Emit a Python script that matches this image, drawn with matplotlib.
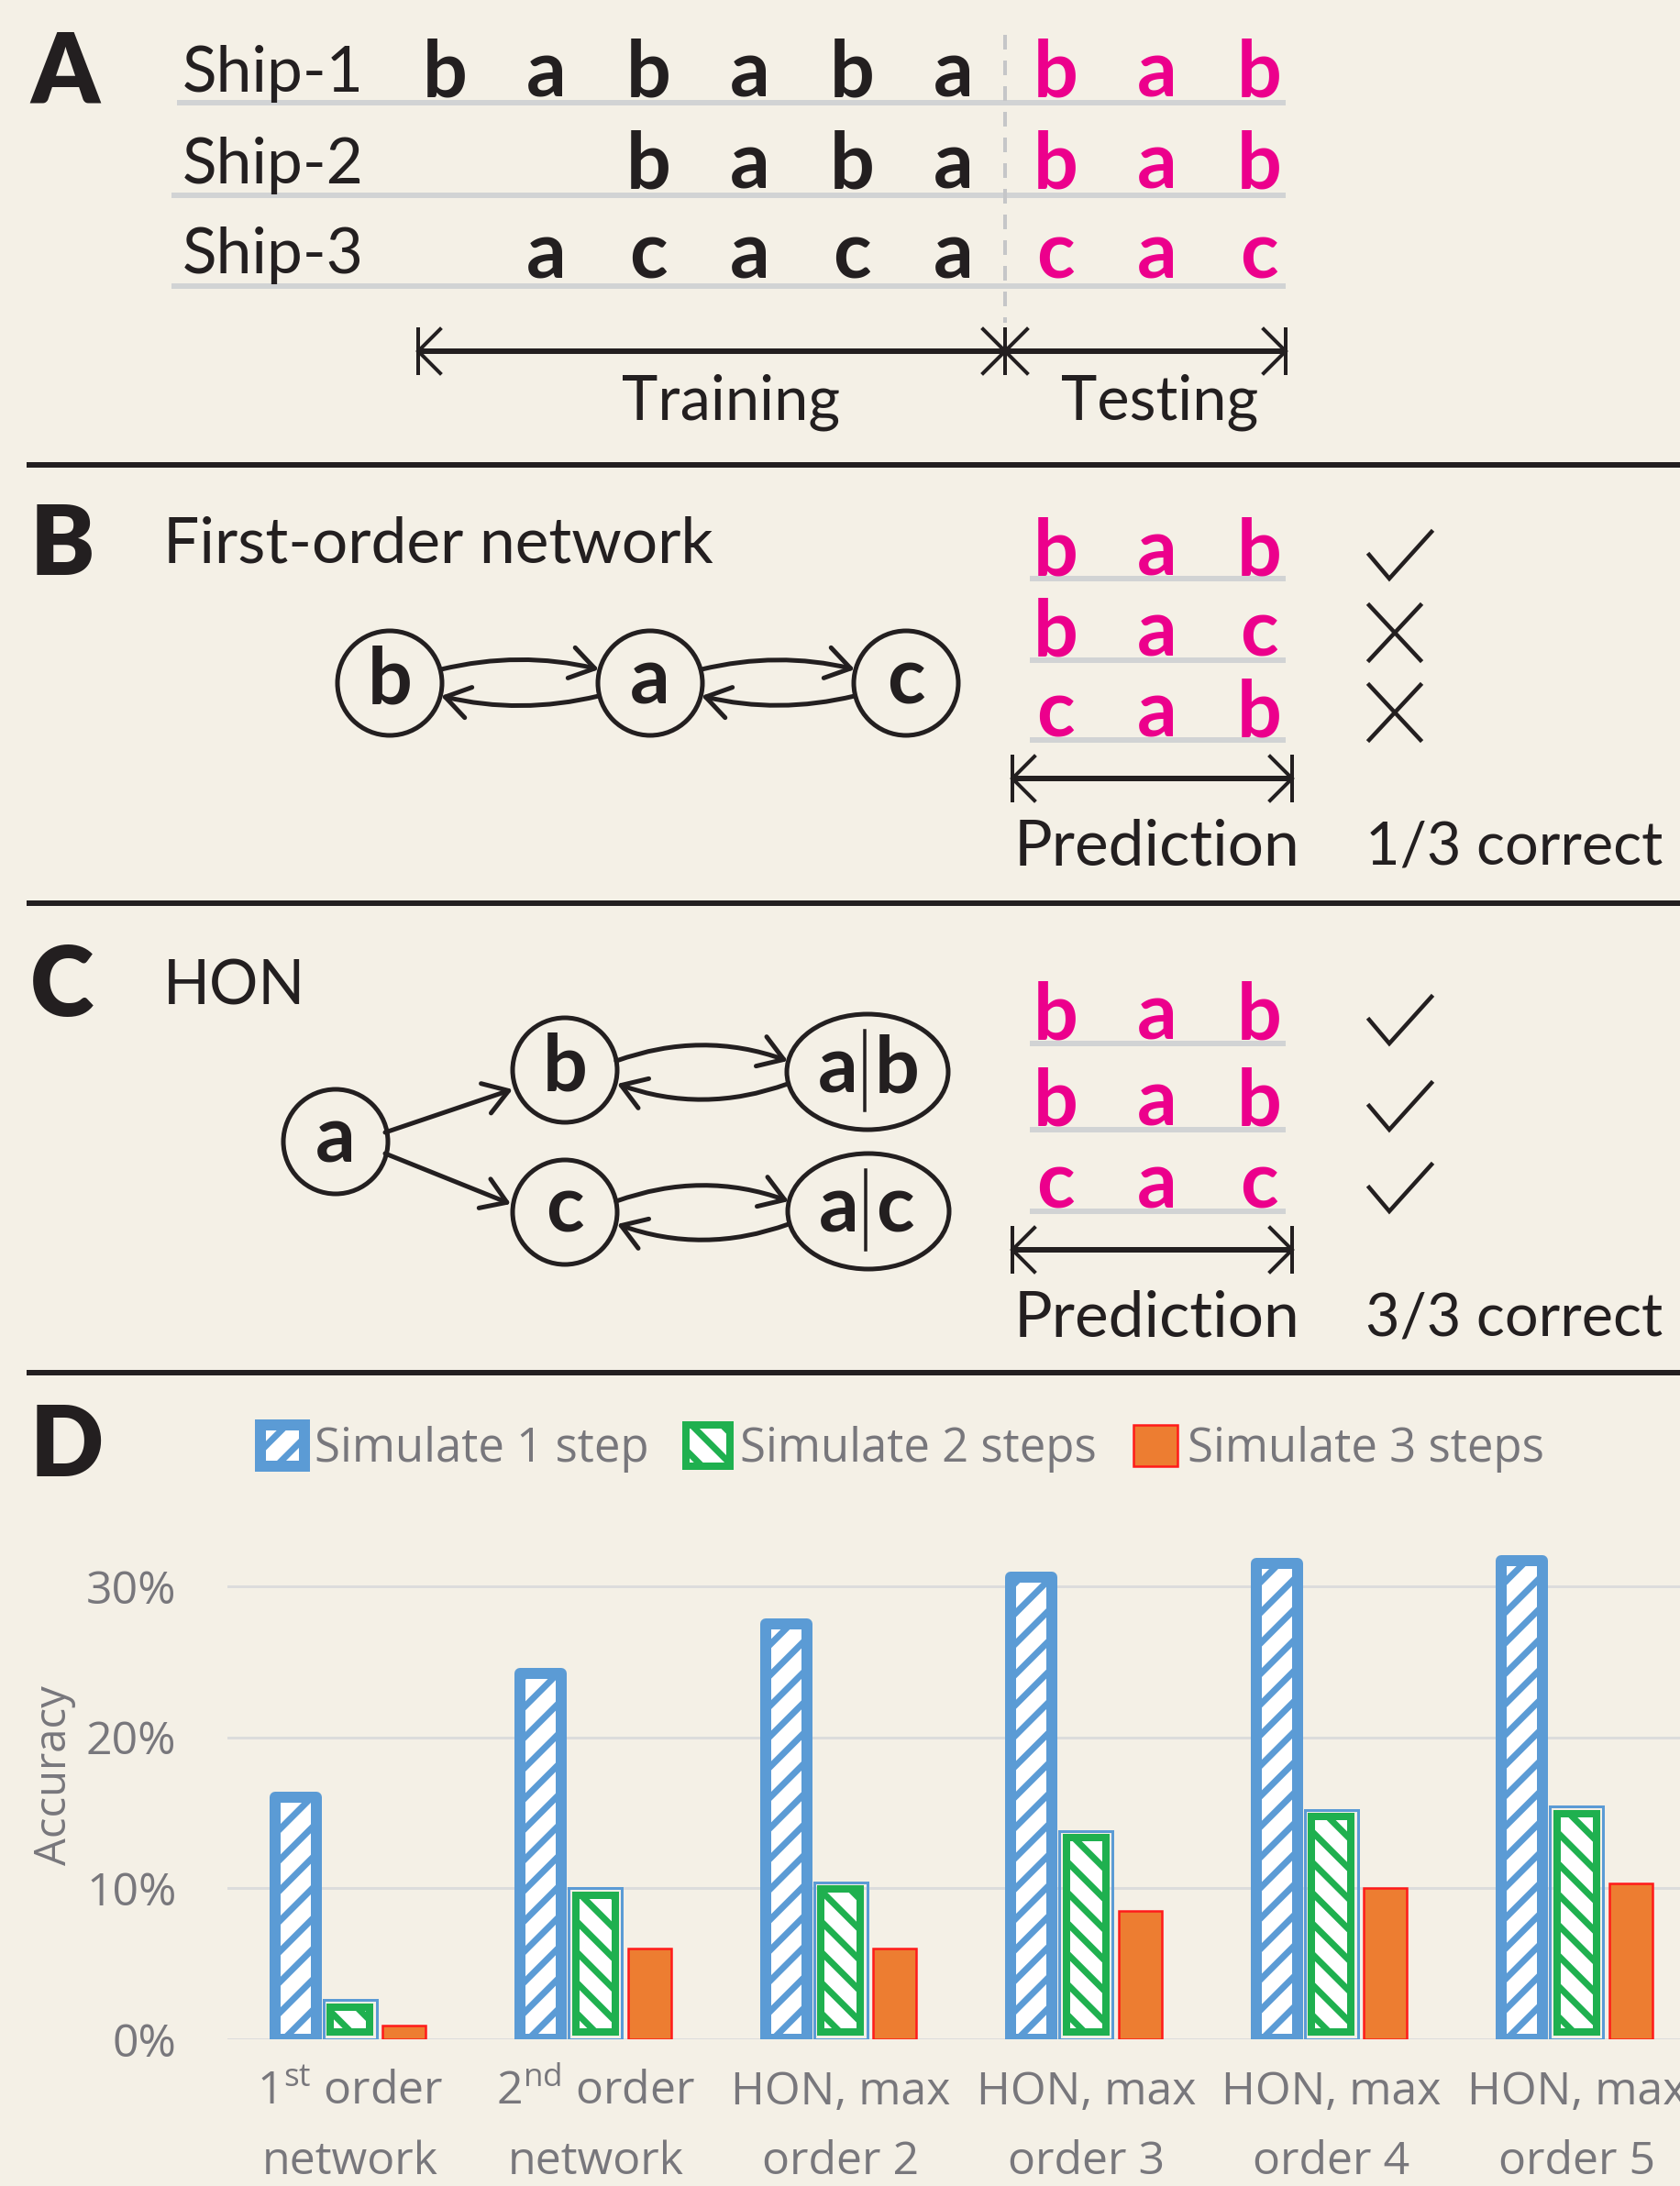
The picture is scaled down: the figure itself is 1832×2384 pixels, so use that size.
import matplotlib
matplotlib.use('Agg')

import numpy as np
import matplotlib.pyplot as plt
from matplotlib.patches import Ellipse, FancyArrowPatch, ArrowStyle

# =========================
# Canvas: drawn in pixel units of the final 1832x2384 image
# =========================
DPI = 200
W, H = 1832, 2384


def px(v):
    # pixels -> points at this dpi
    return v * 72.0 / DPI


BG = '#f4f0e6'
INK = '#231f20'
PINK = '#ec008c'
RULE = '#d1d3d4'
GRAY = '#78777c'
BLUE = '#5b9bd5'
GREEN = '#1fb04f'
ORANGE = '#ed7d31'
RED = '#ff1a1a'

PANEL_FONT = ['Lato', 'DejaVu Sans']
CHART_FONT = ['Open Sans', 'DejaVu Sans']

plt.rcParams['font.family'] = PANEL_FONT
plt.rcParams['mathtext.fontset'] = 'custom'
plt.rcParams['mathtext.rm'] = 'Open Sans'
plt.rcParams['hatch.linewidth'] = px(7)

# =========================
# Data
# =========================
ships = ['Ship-1', 'Ship-2', 'Ship-3']
train_seqs = ['bababa', 'baba', 'acaca']
test_seqs = ['bab', 'bab', 'cac']

first_order_pred = ['bab', 'bac', 'cab']
first_order_ok = [True, False, False]
hon_pred = ['bab', 'bab', 'cac']
hon_ok = [True, True, True]

categories = ['1$^{\\mathrm{st}}$ order\nnetwork', '2$^{\\mathrm{nd}}$ order\nnetwork',
              'HON, max\norder 2', 'HON, max\norder 3', 'HON, max\norder 4', 'HON, max\norder 5']
series = ['Simulate 1 step', 'Simulate 2 steps', 'Simulate 3 steps']
step1 = [16.0, 24.2, 27.5, 30.6, 31.5, 31.7]
step2 = [2.6, 10.0, 10.4, 13.8, 15.2, 15.4]
step3 = [0.9, 6.0, 6.0, 8.5, 10.0, 10.3]
y_ticks = [0, 10, 20, 30]
y_tick_labels = ['0%', '10%', '20%', '30%']

# =========================
# Figure + drawing layer
# =========================
fig = plt.figure(figsize=(W / DPI, H / DPI), dpi=DPI, facecolor=BG)
ax0 = fig.add_axes([0, 0, 1, 1])
ax0.set_xlim(0, W)
ax0.set_ylim(H, 0)
ax0.axis('off')

COLS = 485 + 111 * np.arange(9)


def span_arrow(x0, x1, y):
    ax0.plot([x0, x1], [y, y], color=INK, lw=px(6), solid_capstyle='butt')
    for xe, s in ((x0, 1), (x1, -1)):
        ax0.plot([xe + s * 24, xe, xe + s * 24], [y - 24, y, y + 24],
                 color=INK, lw=px(4), solid_joinstyle='miter')
        ax0.plot([xe, xe], [y - 24, y + 24], color=INK, lw=px(4))


def check(xb, yb):
    ax0.plot([xb - 22, xb, xb + 46], [yb - 26, yb, yb - 51],
             color=INK, lw=px(4.5), solid_joinstyle='miter')


def cross(xc, yc):
    ax0.plot([xc - 28, xc + 28], [yc - 30, yc + 30], color=INK, lw=px(4.5))
    ax0.plot([xc - 28, xc + 28], [yc + 30, yc - 30], color=INK, lw=px(4.5))


def node(x, y, label, rx=57, ry=57):
    ax0.add_patch(Ellipse((x, y), 2 * rx, 2 * ry, fill=False, ec=INK, lw=px(5)))
    if '|' in label:
        left, right = label.split('|')
        ax0.text(x - 10, y + 22, left, fontsize=31, fontweight='bold', color=INK,
                 ha='right', va='baseline')
        ax0.text(x + 8, y + 22, right, fontsize=31, fontweight='bold', color=INK,
                 ha='left', va='baseline')
        ax0.plot([x - 3, x - 3], [y - 45, y + 42], color=INK, lw=px(3.5))
    else:
        ax0.text(x, y + 22, label, fontsize=31, fontweight='bold', color=INK,
                 ha='center', va='baseline')


def edge(pA, pB, rad):
    style = ArrowStyle('->', head_length=px(26), head_width=px(17))
    ax0.add_patch(FancyArrowPatch(pA, pB, connectionstyle='arc3,rad=%s' % rad,
                                  arrowstyle=style, mutation_scale=1, lw=px(5),
                                  color=INK, shrinkA=0, shrinkB=0))


def prediction_block(preds, oks, rule_ys, arrow_y, text_y, score):
    for i, seq in enumerate(preds):
        ax0.plot([1123, 1402], [rule_ys[i]] * 2, color=RULE, lw=px(6), solid_capstyle='butt')
        for j, ch in enumerate(seq):
            ax0.text(COLS[6 + j], rule_ys[i] - 4, ch, fontsize=31, fontweight='bold',
                     color=PINK, ha='center', va='baseline')
        if oks[i]:
            check(1515, rule_ys[i])
        else:
            cross(1521, rule_ys[i] - 30)
    span_arrow(1104, 1409, arrow_y)
    ax0.text(1261, text_y, 'Prediction', fontsize=25, color=INK, ha='center', va='baseline')
    ax0.text(1489, text_y, score, fontsize=23.3, color=INK, ha='left', va='baseline')


# panel letters and separators
for letter, yb in zip('ABCD', [112, 627, 1108, 1610]):
    ax0.text(33, yb, letter, fontsize=38, fontweight='heavy', color=INK, ha='left', va='baseline')
for ys in [507, 985, 1497]:
    ax0.plot([29, W], [ys, ys], color=INK, lw=px(6), solid_capstyle='butt')

# =========================
# Panel A
# =========================
ship_base = [100, 200, 298]
letter_base = [106, 205, 304]
rule_y = [112, 213, 312]
rule_x0 = [193, 187, 187]
for i, ship in enumerate(ships):
    ax0.plot([rule_x0[i], 1402], [rule_y[i]] * 2, color=RULE, lw=px(6), solid_capstyle='butt')
    ax0.text(199, ship_base[i], ship, fontsize=25, color=INK, ha='left', va='baseline')
    seq = train_seqs[i]
    for j, ch in enumerate(seq):
        ax0.text(COLS[6 - len(seq) + j], letter_base[i], ch, fontsize=31, fontweight='bold',
                 color=INK, ha='center', va='baseline')
    for j, ch in enumerate(test_seqs[i]):
        ax0.text(COLS[6 + j], letter_base[i], ch, fontsize=31, fontweight='bold',
                 color=PINK, ha='center', va='baseline')

ax0.plot([1096, 1096], [38, 352], color='#c5c6c8', lw=px(4), linestyle=(0, (4, 3)))
span_arrow(456, 1096, 383)
span_arrow(1096, 1402, 383)
ax0.text(797, 458, 'Training', fontsize=24, color=INK, ha='center', va='baseline')
ax0.text(1265, 458, 'Testing', fontsize=24, color=INK, ha='center', va='baseline')

# =========================
# Panel B
# =========================
ax0.text(178, 613, 'First-order network', fontsize=25, color=INK, ha='left', va='baseline')
node(425, 745, 'b')
node(709, 745, 'a')
node(988, 745, 'c')
edge((481, 730), (653, 730), -0.12)
edge((653, 759), (481, 759), -0.12)
edge((765, 730), (932, 730), -0.12)
edge((932, 759), (765, 759), -0.12)
prediction_block(first_order_pred, first_order_ok, [631, 720, 807], 849, 943, '1/3 correct')

# =========================
# Panel C
# =========================
ax0.text(178, 1095, 'HON', fontsize=24, color=INK, ha='left', va='baseline')
node(366, 1245, 'a')
node(616, 1167, 'b')
node(616, 1322, 'c')
node(946, 1169, 'a|b', rx=88, ry=63)
node(947, 1321, 'a|c', rx=88, ry=63)
edge((420, 1235), (559, 1188), 0)
edge((420, 1258), (557, 1313), 0)
edge((672, 1157), (859, 1157), -0.18)
edge((859, 1182), (673, 1182), -0.18)
edge((672, 1310), (860, 1310), -0.18)
edge((860, 1335), (673, 1335), -0.18)
prediction_block(hon_pred, hon_ok, [1138, 1232, 1321], 1363, 1457, '3/3 correct')

# =========================
# Panel D: bar chart
# =========================
ax = fig.add_axes([248 / W, (H - 2224) / H, 1605 / W, 576.5 / H])
ax.set_facecolor('none')
ax.set_xlim(-0.5, 5.5)
ax.set_ylim(0, 35)
x = np.arange(len(categories))
inset = 7.5 / 16.47

b1 = ax.bar(x - 0.2224, step1, width=0.168, facecolor='white', edgecolor=BLUE,
            linewidth=px(12), hatch='//', joinstyle='round', zorder=3)
ax.bar(x, step2, width=0.217, facecolor='none', edgecolor=BLUE, linewidth=px(3), zorder=3)
b2 = ax.bar(x, np.array(step2) - 2 * inset, bottom=inset, width=0.161, facecolor='white',
            edgecolor=GREEN, linewidth=px(8), hatch='\\\\', zorder=3)
b3 = ax.bar(x + 0.2206, step3, width=0.176, facecolor=ORANGE, edgecolor=RED,
            linewidth=px(2.5), zorder=3)

ax.set_yticks(y_ticks)
ax.set_yticklabels(y_tick_labels)
ax.set_xticks(x)
ax.set_xticklabels(categories, linespacing=1.7)
for t in ax.get_xticklabels() + ax.get_yticklabels():
    t.set_fontfamily(CHART_FONT)
    t.set_fontsize(18)
    t.set_color(GRAY)
ax.tick_params(axis='y', length=0, pad=20)
ax.tick_params(axis='x', length=0, pad=12)
ax.yaxis.grid(True, color='#dcdcdc', lw=px(3))
ax.set_axisbelow(True)
for s in ax.spines.values():
    s.set_visible(False)

ax.set_ylabel('Accuracy', fontsize=17, color=GRAY, family=CHART_FONT)
ax.yaxis.set_label_coords(-0.1028, 0.5)

fig.legend(handles=[b1, b2, b3], labels=series, loc='center left',
           bbox_to_anchor=(284 / W, 1 - 1580 / H), ncol=3, frameon=False,
           borderpad=0, borderaxespad=0, handlelength=0.95, handleheight=1.0,
           handletextpad=0.22, columnspacing=0.78, labelcolor=GRAY,
           prop={'family': CHART_FONT, 'size': 18.3})

fig.savefig('out.png', dpi=DPI, facecolor=BG)
